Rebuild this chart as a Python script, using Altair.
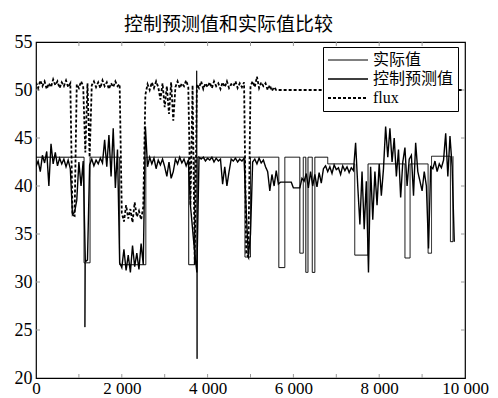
import altair as alt
import pandas as pd

series_names = ["实际值", "控制预测值", "flux"]
x_label_values = [0, 2000, 4000, 6000, 8000, 10000]
y_tick_values = [20, 25, 30, 35, 40, 45, 50, 55]
x_minor_ticks = [1000, 2000, 3000, 4000, 5000, 6000, 7000, 8000, 9000]
y_minor_ticks = [25, 30, 35, 40, 45, 50]

# 实际值 : step-like thin line, explicit breakpoints
actual_x = [0, 1120, 1120, 1140, 1140, 1150, 1260, 1260, 1950, 1950, 2560, 2560,
            3560, 3560, 3700, 3700, 3745, 3745, 3755, 3760, 4870, 4870, 5000, 5000,
            5660, 5660, 5800, 5800, 6150, 6150, 6230, 6230, 6290, 6290, 6340, 6340,
            6440, 6440, 6500, 6500, 6800, 6800, 7430, 7430, 7740, 7740, 8600, 8600,
            8720, 8720, 9140, 9140, 9220, 9220, 9660, 9660, 9720, 9720]
actual_y = [43, 43, 32, 32, 25.3, 32, 32, 43, 43, 31.8, 31.8, 43,
            43, 31.8, 31.8, 43, 43, 52, 22, 43, 43, 32.6, 32.6, 43,
            43, 31.5, 31.5, 43, 43, 33, 33, 43, 43, 31, 31, 43,
            43, 31, 31, 43, 43, 42.3, 42.3, 32.8, 32.8, 42.3, 42.3, 32.5,
            32.5, 42.3, 42.3, 33, 33, 43.1, 43.1, 34.2, 34.2, 43.1]

# 控制预测值 : sampled every 50 units from x = 0
control_step = 50
control_y = [
    # 0 - 1950
    42.0, 42.6, 41.5, 43.2, 42.4, 43.6, 40.0, 44.4, 42.3, 43.5,
    42.1, 42.9, 42.3, 42.8, 42.0, 42.7, 41.8, 37.0, 37.3, 38.5,
    42.5, 40.0, 42.6, 32.1, 32.3, 42.2, 42.8, 42.1, 42.7, 42.3,
    42.9, 42.4, 44.8, 42.0, 45.3, 41.0, 46.0, 39.8, 43.8, 32.0,
    # 2000 - 2500
    31.5, 33.4, 31.2, 32.8, 31.0, 33.8, 31.6, 33.0, 31.3, 34.0, 31.8,
    # 2550 - 2600
    46.2, 42.0,
    # 2650 - 3550
    43.0, 42.3, 42.9, 41.8, 42.7, 42.2, 42.8, 42.0, 41.0, 42.5,
    40.8, 41.5, 42.8, 42.3, 43.0, 42.4, 42.8, 42.1, 42.7,
    # 3600 - 3800
    38.0, 35.5, 33.0, 31.0, 43.0,
    # 3850 - 4850
    42.8, 43.0, 42.6, 42.9, 42.7, 43.0, 42.5, 42.9, 42.6, 42.8,
    40.2, 42.0, 40.0, 41.5, 42.8, 42.6, 42.9, 42.5, 42.8, 42.6, 42.9,
    # 4900 - 5050
    37.5, 32.6, 35.0, 42.5,
    # 5100 - 5350
    42.8, 42.3, 42.9, 42.4, 42.7, 42.0,
    # 5400 - 5650
    41.5, 39.5, 41.2, 40.0, 41.6, 40.2,
    # 5700 - 6250
    40.4, 40.4, 40.4, 40.4, 40.4, 40.4, 39.8, 39.8, 39.8, 39.8, 40.8, 40.5,
    # 6300 - 6650
    41.3, 39.8, 41.5, 40.0, 41.2, 39.9, 41.4, 40.3,
    # 6700 - 7400
    41.8, 42.1, 41.5, 42.0, 41.3, 42.2, 41.7, 41.9, 41.2, 42.1,
    41.6, 42.0, 41.4, 41.9, 41.6,
    # 7450 - 8350
    44.5, 40.0, 36.0, 41.5, 35.5, 40.5, 31.0, 42.0, 36.5, 41.5,
    38.0, 42.3, 39.0, 41.8, 46.2, 43.0, 46.0, 42.5, 45.0,
    # 8400 - 8950
    41.0, 43.8, 38.8, 42.5, 44.0, 40.0, 42.8, 43.2, 39.0, 44.5, 41.5, 40.5,
    # 9000 - 9200
    39.5, 41.5, 40.0, 33.5, 42.0,
    # 9250 - 9750
    41.8, 42.6, 41.5, 42.3, 41.9, 42.7, 45.5, 41.0, 45.2, 42.0, 34.2,
]

# flux : dashed line, noisy segments (start, step 50) plus flat tail
flux_a_start = 0
flux_a_y = [50.8, 50.2, 51.0, 50.4, 50.9, 50.1, 50.7, 50.3, 51.1, 50.5,
            50.9, 50.2, 50.8, 50.4, 51.0, 50.3, 50.7, 37.0, 36.9, 50.6,
            50.2, 50.9, 50.4, 43.5, 50.7, 43.0, 50.5, 50.9, 50.3, 50.8,
            50.2, 51.0, 50.4, 50.8, 50.1, 50.7, 50.3, 50.9, 50.4, 50.6]
flux_b_start = 2000
flux_b_y = [37.2, 36.3, 38.0, 36.6, 37.6, 36.2, 38.3, 36.8, 37.4, 36.5, 37.8]
flux_c_start = 2550
flux_c_y = [49.5, 50.6, 50.0, 50.8, 50.2, 50.9, 50.3, 49.0, 50.7, 48.2,
            50.4, 47.5, 50.8, 46.8, 50.3, 50.9, 50.2, 50.7, 50.4, 51.0,
            50.3, 38.0, 50.5, 31.8, 50.6, 50.2, 50.9, 50.1, 50.7, 50.3,
            50.8, 50.2, 50.9, 50.4, 50.7, 50.1, 50.8, 50.3, 50.9, 50.2,
            50.6, 50.4, 50.9, 50.2, 50.7, 50.3, 50.8, 33.0, 32.6, 50.4,
            50.9, 50.3, 51.4, 50.2, 50.8, 50.4, 50.7, 50.0, 50.5, 49.9,
            50.3, 50.0]
flux_tail_x = [5650, 9950]
flux_tail_y = [50.0, 50.0]

rows = []


def add(name, xs, ys):
    for x, y in zip(xs, ys):
        rows.append({"x": x, "y": y, "s": name, "i": len(rows)})


flux_x, flux_y = [], []
for start, ys in [(flux_a_start, flux_a_y), (flux_b_start, flux_b_y), (flux_c_start, flux_c_y)]:
    flux_x += [start + 50 * k for k in range(len(ys))]
    flux_y += ys
flux_x += flux_tail_x
flux_y += flux_tail_y

add("flux", flux_x, flux_y)
add("实际值", actual_x, actual_y)
add("控制预测值", [control_step * k for k in range(len(control_y))], control_y)

df = pd.DataFrame(rows)
xt = pd.DataFrame({"x": x_minor_ticks})
yt = pd.DataFrame({"y": y_minor_ticks})

num_font = "Liberation Serif"
mix_font = "Liberation Serif, Noto Sans CJK SC"

leg = alt.Legend(
    title=None, orient="none", legendX=287, legendY=5,
    symbolType="stroke", symbolSize=1600, labelFont=mix_font, labelFontSize=16,
    labelColor="black", strokeColor="black", fillColor="white", padding=4,
    rowPadding=1, clipHeight=18, labelOffset=4, symbolStrokeColor="black",
)

xscale = alt.Scale(domain=[0, 10000], nice=False)
yscale = alt.Scale(domain=[20, 55], nice=False, zero=False)

lines = alt.Chart(df).mark_line(clip=True).encode(
    x=alt.X("x:Q", scale=xscale,
            axis=alt.Axis(values=x_label_values, title=None, ticks=False, domain=False, grid=False,
                          labelExpr="replace(format(datum.value, ','), ',', ' ')",
                          labelFont=num_font, labelFontSize=17, labelPadding=2,
                          labelColor="black", labelFlush=False)),
    y=alt.Y("y:Q", scale=yscale,
            axis=alt.Axis(values=y_tick_values, title=None, ticks=False, domain=False, grid=False,
                          labelFont=num_font, labelFontSize=18, labelPadding=4,
                          labelColor="black")),
    color=alt.Color("s:N", scale=alt.Scale(domain=series_names, range=["black", "black", "black"]), legend=leg),
    strokeDash=alt.StrokeDash("s:N", scale=alt.Scale(domain=series_names, range=[[1, 0], [1, 0], [3, 2]]), legend=leg),
    strokeWidth=alt.StrokeWidth("s:N", scale=alt.Scale(domain=series_names, range=[1.0, 1.8, 1.2]), legend=leg),
    order="i:Q",
)

tick_color = "#9a9a9a"
top_ticks = alt.Chart(xt).mark_rule(color=tick_color, strokeWidth=1).encode(
    x=alt.X("x:Q", scale=xscale), y=alt.value(0), y2=alt.value(4))
bottom_ticks = alt.Chart(xt).mark_rule(color=tick_color, strokeWidth=1).encode(
    x=alt.X("x:Q", scale=xscale), y=alt.value(336), y2=alt.value(332))
left_ticks = alt.Chart(yt).mark_rule(color=tick_color, strokeWidth=1).encode(
    y=alt.Y("y:Q", scale=yscale), x=alt.value(0), x2=alt.value(4))
right_ticks = alt.Chart(yt).mark_rule(color=tick_color, strokeWidth=1).encode(
    y=alt.Y("y:Q", scale=yscale), x=alt.value(429), x2=alt.value(425))

chart = alt.layer(top_ticks, bottom_ticks, left_ticks, right_ticks, lines).properties(
    width=429, height=336,
    title=alt.TitleParams("控制预测值和实际值比较", font="Noto Sans CJK SC", fontSize=19,
                          fontWeight="normal", anchor="middle", dx=-22, dy=12, offset=10, color="black"),
    autosize=alt.AutoSizeParams(type="none"),
    padding={"left": 28, "top": 34, "right": 25, "bottom": 20},
).configure_view(stroke="black", strokeWidth=1.2)

chart.save("out.html", embed_options={"renderer": "svg", "actions": False})
